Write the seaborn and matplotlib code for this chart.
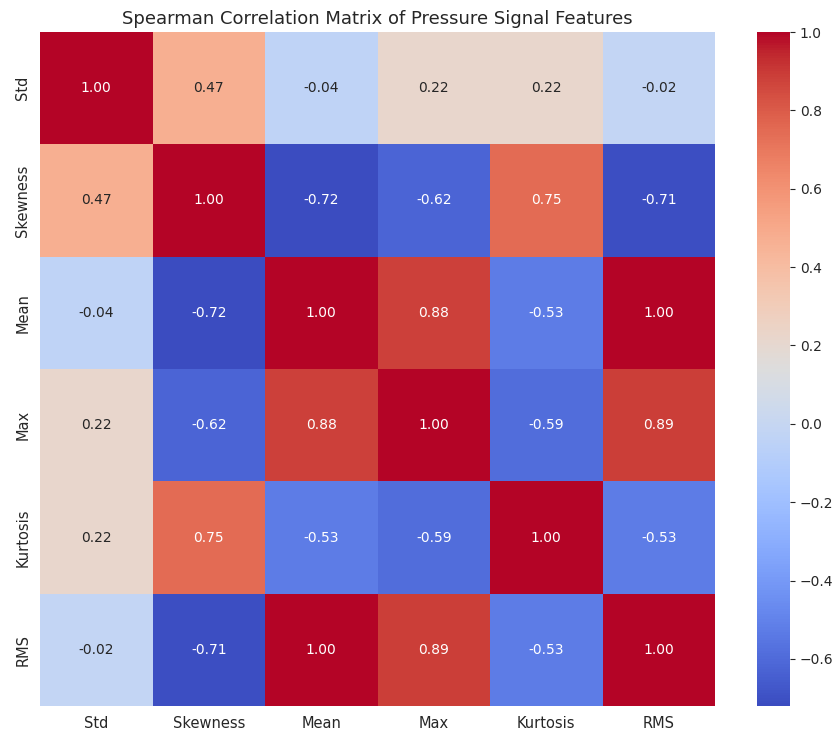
import numpy as np
import pandas as pd
import matplotlib
matplotlib.use("Agg")
import matplotlib.pyplot as plt
import seaborn as sns

features = ["Std", "Skewness", "Mean", "Max", "Kurtosis", "RMS"]

row_std = [1.00, 0.47, -0.04, 0.22, 0.22, -0.02]
row_skewness = [0.47, 1.00, -0.72, -0.62, 0.75, -0.71]
row_mean = [-0.04, -0.72, 1.00, 0.88, -0.53, 1.00]
row_max = [0.22, -0.62, 0.88, 1.00, -0.59, 0.89]
row_kurtosis = [0.22, 0.75, -0.53, -0.59, 1.00, -0.53]
row_rms = [-0.02, -0.71, 1.00, 0.89, -0.53, 1.00]

cbar_ticks = [-0.6, -0.4, -0.2, 0.0, 0.2, 0.4, 0.6, 0.8, 1.0]

corr = pd.DataFrame(
    [row_std, row_skewness, row_mean, row_max, row_kurtosis, row_rms],
    index=features, columns=features,
)

sns.set_style("white")
plt.rcParams["font.family"] = ["DejaVu Sans"]

fig = plt.figure(figsize=(8.35, 7.35), dpi=100)
ax = fig.add_axes([40 / 835, 1 - 706 / 735, 675 / 835, 674 / 735])
cax = fig.add_axes([757 / 835, 1 - 706 / 735, 33 / 835, 674 / 735])

sns.heatmap(
    corr, annot=True, fmt=".2f", cmap="coolwarm",
    annot_kws={"fontsize": 10}, ax=ax, cbar_ax=cax,
)
ax.set_title("Spearman Correlation Matrix of Pressure Signal Features", fontsize=13)
ax.tick_params(axis="both", labelsize=10.5)
plt.setp(ax.get_yticklabels(), rotation=90, va="center")
plt.setp(ax.get_xticklabels(), rotation=0)

cbar = ax.collections[0].colorbar
cbar.set_ticks(
    cbar_ticks,
    labels=[f"{t:.1f}".replace("-", "\u2212") for t in cbar_ticks],
)
cbar.ax.tick_params(labelsize=10)

fig.savefig("out.png", dpi=100)
